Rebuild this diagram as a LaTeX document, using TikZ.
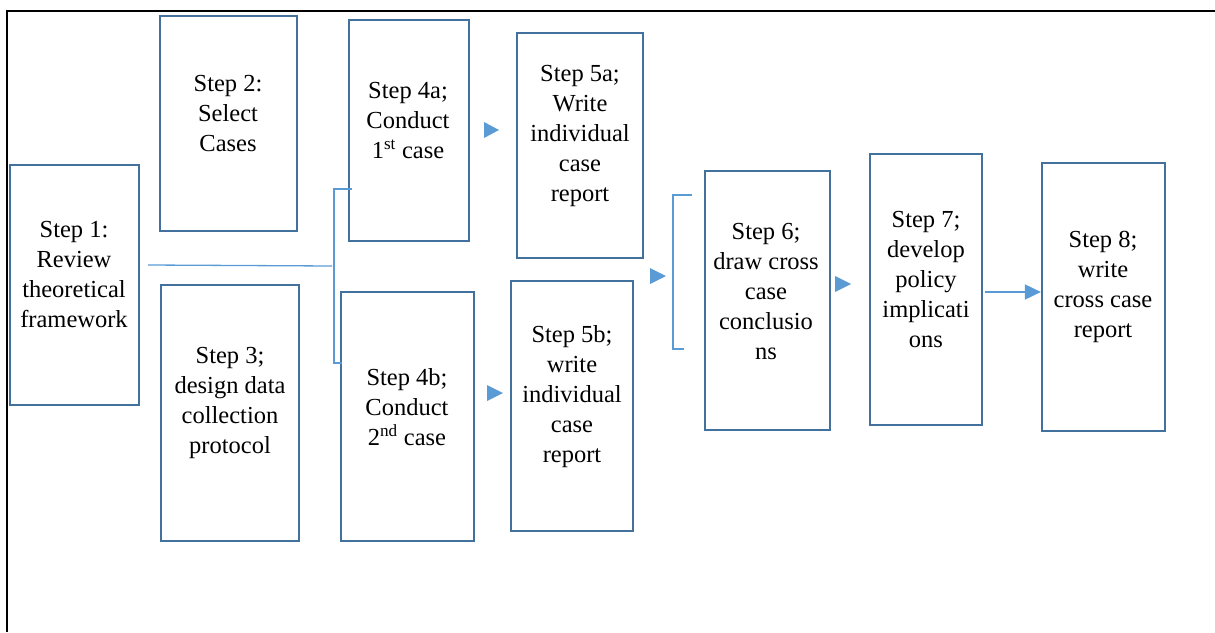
\documentclass[tikz,border=0pt]{standalone}
\usepackage{fontspec}
\setmainfont{Liberation Serif}
\usetikzlibrary{fit,arrows.meta}
\definecolor{boxblue}{RGB}{65,113,156}
\definecolor{lineblue}{RGB}{91,155,213}
\begin{document}
\begin{tikzpicture}[x=1pt,y=-1pt,
  stepbox/.style={draw=boxblue, line width=2.2pt, inner sep=0pt},
  steptext/.style={align=center, inner sep=0pt, font=\fontsize{24.5}{30}\selectfont},
  conn/.style={draw=lineblue, line width=1.3pt},
  tip/.style={fill=lineblue},
  frameline/.style={draw=black, line width=2.2pt}]
\useasboundingbox (0,0) rectangle (1215,632);
% page frame
\draw[frameline] (1215,11) -- (7,11) -- (7,632);

% step boxes
\node[stepbox, fit={(10,165) (139,405)}] (s1) {};
\node[stepbox, fit={(160,16) (297,231)}] (s2) {};
\node[stepbox, fit={(161,285) (299,541)}] (s3) {};
\node[stepbox, fit={(349,20) (469,241)}] (s4a) {};
\node[stepbox, fit={(341,292) (474,541)}] (s4b) {};
\node[stepbox, fit={(517,33) (643,258)}] (s5a) {};
\node[stepbox, fit={(511,281) (633,531)}] (s5b) {};
\node[stepbox, fit={(705,171) (830,430)}] (s6) {};
\node[stepbox, fit={(870,154) (982,425)}] (s7) {};
\node[stepbox, fit={(1042,163) (1165,431)}] (s8) {};

% box texts
\node[steptext] (t1) at (74,275) {Step 1:\\Review\\theoretical\\framework};
\node[steptext] (t2) at (228,114) {Step 2:\\Select\\Cases};
\node[steptext] (t3) at (230,403) {Step 3;\\design data\\collection\\protocol};
\node[steptext] (t4a) at (408,121) {Step 4a;\\Conduct\\1\textsuperscript{st} case};
\node[steptext] (t4b) at (407,407) {Step 4b;\\Conduct\\2\textsuperscript{nd} case};
\node[steptext] (t5a) at (580,136) {Step 5a;\\Write\\individual\\case\\report};
\node[steptext] (t5b) at (572,397) {Step 5b;\\write\\individual\\case\\report};
\node[steptext] (t6) at (766,292) {Step 6;\\draw cross\\case\\conclusio\\ns};
\node[steptext] (t7) at (926,280) {Step 7;\\develop\\policy\\implicati\\ons};
\node[steptext] (t8) at (1103,287) {Step 8;\\write\\cross case\\report};

% connector from step 1 into the bracket joining steps 4a and 4b
\coordinate (c1) at (148,265);
\coordinate (c2) at (332,266);
\draw[conn] (c1) -- (c2);
\coordinate (b1t) at (352,189);
\coordinate (b1b) at (342,363);
\draw[conn] (b1t) -- (334,189) -- (334,363) -- (b1b);

% bracket gathering steps 5a and 5b
\coordinate (b2t) at (692,195);
\coordinate (b2b) at (684,349);
\draw[conn] (b2t) -- (673,195) -- (673,349) -- (b2b);

% arrow heads between columns
\fill[tip] (484,122) -- (499,130) -- (484,138) -- cycle;
\fill[tip] (487,385) -- (503,393) -- (487,401) -- cycle;
\fill[tip] (650,268) -- (666,276) -- (650,284) -- cycle;
\fill[tip] (835,276) -- (851,284) -- (835,292) -- cycle;

% step 7 to step 8
\coordinate (a78) at (985,292);
\draw[conn, line width=1.8pt, -{Triangle[length=16pt,width=15pt]}] (a78) -- (a78 -| s8.west);
\end{tikzpicture}
\end{document}
